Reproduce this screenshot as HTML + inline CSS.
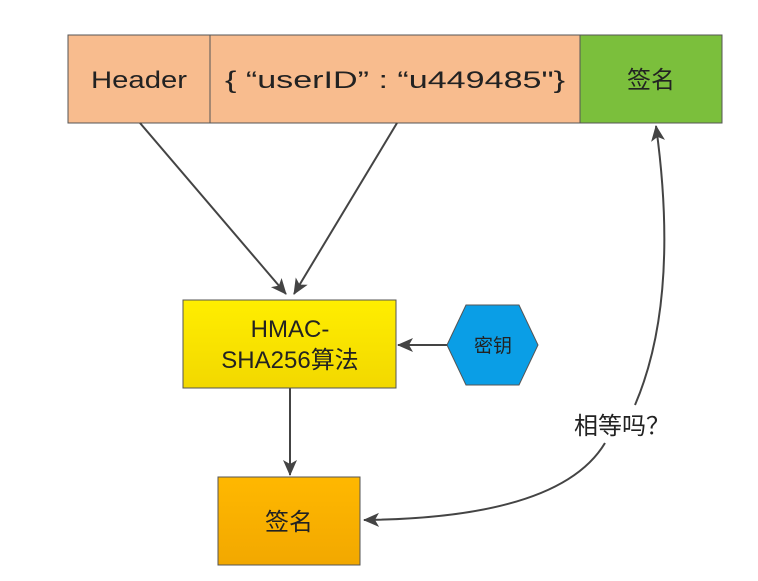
<!DOCTYPE html>
<html><head><meta charset="utf-8"><style>
body{margin:0;background:#fff;width:758px;height:581px;overflow:hidden}
svg{display:block}
text{font-family:"Liberation Sans","Noto Sans CJK SC",sans-serif;fill:#222}
</style></head><body>
<svg width="758" height="581" viewBox="0 0 758 581">
<defs>
<marker id="a" markerWidth="16" markerHeight="16" refX="15" refY="8" orient="auto" markerUnits="userSpaceOnUse" viewBox="0 0 16 16"><path d="M0,1 L16,8 L0,15 L4,8z" fill="#444"/></marker>
<linearGradient id="y" x1="0" y1="0" x2="0" y2="1"><stop offset="0" stop-color="#ffee00"/><stop offset="1" stop-color="#f2d800"/></linearGradient>
<linearGradient id="o" x1="0" y1="0" x2="0" y2="1"><stop offset="0" stop-color="#ffb800"/><stop offset="1" stop-color="#f2a800"/></linearGradient>
</defs>
<rect x="68" y="35" width="142" height="88" fill="#f8bc8e" stroke="#555"/>
<rect x="210" y="35" width="370" height="88" fill="#f8bc8e" stroke="#555"/>
<rect x="580" y="35" width="142" height="88" fill="#7bbf3c" stroke="#555"/>
<text x="139" y="88" font-size="24" text-anchor="middle" textLength="96" lengthAdjust="spacingAndGlyphs">Header</text>
<text x="395" y="88" font-size="24" text-anchor="middle" textLength="340" lengthAdjust="spacingAndGlyphs">{ “userID” :  “u449485"}</text>
<text x="651" y="88" font-size="24" text-anchor="middle">签名</text>
<g stroke="#444" stroke-width="2" fill="none">
<line x1="140" y1="123" x2="286" y2="294" marker-end="url(#a)"/>
<line x1="397" y1="123" x2="294" y2="294" marker-end="url(#a)"/>
<line x1="290" y1="388" x2="290" y2="475" marker-end="url(#a)"/>
<line x1="447" y1="345" x2="398" y2="345" marker-end="url(#a)"/>
<path d="M605,443 Q560,518 364,520" marker-end="url(#a)"/>
<path d="M635,405 Q680,300 656,126" marker-end="url(#a)"/>
</g>
<rect x="183" y="300" width="213" height="88" fill="url(#y)" stroke="#555"/>
<text x="290" y="337" font-size="24" text-anchor="middle">HMAC-</text>
<text x="290" y="368" font-size="24" text-anchor="middle">SHA256算法</text>
<polygon points="447,345 466,305 519,305 538,345 519,385 466,385" fill="#0a9ee6" stroke="#555"/>
<text x="493" y="352" font-size="19" text-anchor="middle">密钥</text>
<rect x="218" y="477" width="142" height="88" fill="url(#o)" stroke="#555"/>
<text x="289" y="530" font-size="24" text-anchor="middle">签名</text>
<text x="622" y="434" font-size="24" text-anchor="middle">相等吗？</text>
</svg>
</body></html>
